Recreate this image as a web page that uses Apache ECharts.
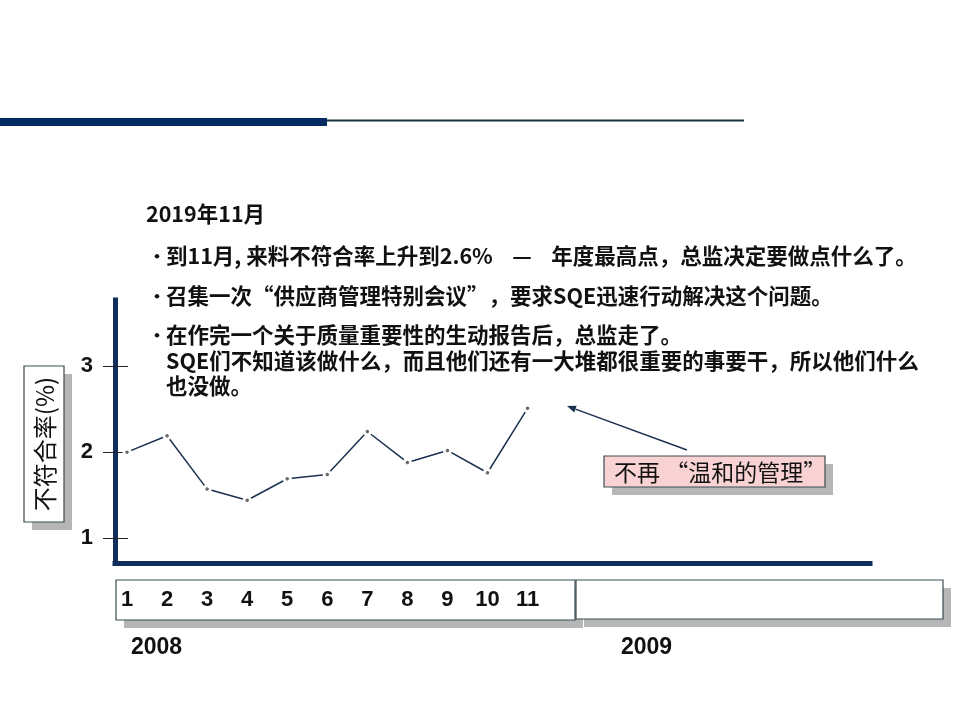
<!DOCTYPE html>
<html>
<head>
<meta charset="utf-8">
<script src="https://cdn.jsdelivr.net/npm/echarts@6/dist/echarts.min.js"></script>
<style>
  html, body { margin: 0; padding: 0; background: #ffffff; }
  #chart { width: 960px; height: 720px; }
</style>
</head>
<body>
<div id="chart"></div>
<script>
// values
const months = [1, 2, 3, 4, 5, 6, 7, 8, 9, 10, 11]
const rejectRate = [2.00, 2.19, 1.57, 1.44, 1.69, 1.74, 2.24, 1.88, 2.02, 1.76, 2.51]
const yTicks = [1, 2, 3]
const years = ['2008', '2009']
const axisName = '不符合率(%)'
const title = '2019年11月'
const bullets = [
  ['到11月, 来料不符合率上升到2.6%    —    年度最高点，总监决定要做点什么了。'],
  ['召集一次“供应商管理特别会议”，要求SQE迅速行动解决这个问题。'],
  ['在作完一个关于质量重要性的生动报告后，总监走了。',
   'SQE们不知道该做什么，而且他们还有一大堆都很重要的事要干，所以他们什么',
   '也没做。'],
]
const callout = '不再 “温和的管理”'

const palette = {
  navy: '#0f2e5c',
  header: '#042a62',
  headerThin: '#18343f',
  line: '#1c3150',
  dot: '#6a6a6a',
  text: '#111111',
  border: '#3a4c52',
  shadow: '#b6b6b6',
  pink: '#f9d3d3',
}

const CJK = '"Noto Sans CJK SC", "Noto Sans", sans-serif'
const SANS = '"Liberation Sans", Arial, Helvetica, sans-serif'

function textEl(text, x, y, font, extra = {}) {
  return {
    type: 'text',
    z: 20,
    silent: true,
    style: { text, x, y, font, fill: palette.text, align: 'left', verticalAlign: 'middle', ...extra },
  }
}

function boxEl(x, y, width, height, fill, z = 1) {
  return [
    { type: 'rect', z, silent: true, shape: { x: x + 8, y: y + 8, width, height }, style: { fill: palette.shadow } },
    { type: 'rect', z, silent: true, shape: { x, y, width, height }, style: { fill, stroke: palette.border, lineWidth: 1.2 } },
  ]
}

function arrowEl(tail, tip) {
  const dx = tip[0] - tail[0]
  const dy = tip[1] - tail[1]
  const len = Math.hypot(dx, dy)
  const ux = dx / len
  const uy = dy / len
  const bx = tip[0] - ux * 9
  const by = tip[1] - uy * 9
  return [
    { type: 'line', z: 20, silent: true, shape: { x1: tail[0], y1: tail[1], x2: bx, y2: by }, style: { stroke: palette.line, lineWidth: 1.5 } },
    {
      type: 'polygon', z: 20, silent: true,
      shape: { points: [tip, [bx - uy * 3.5, by + ux * 3.5], [bx + uy * 3.5, by - ux * 3.5]] },
      style: { fill: palette.line },
    },
  ]
}

function buildText() {
  const font = `bold 21.5px ${CJK}`
  const out = [textEl(title, 146, 214, font)]
  const tops = [256, 296, 335]
  bullets.forEach((lines, i) => {
    out.push(textEl('•', 148, tops[i], `bold 18px ${CJK}`))
    lines.forEach((line, j) => {
      out.push(textEl(line, 166, tops[i] + j * 25.5, font))
    })
  })
  return out
}

const chart = echarts.init(document.getElementById('chart'), null, { renderer: 'canvas' })

const axisLabelFont = { color: palette.text, fontSize: 22, fontWeight: 'bold', fontFamily: SANS }

chart.setOption({
  backgroundColor: '#ffffff',
  animation: false,
  grid: { left: 115, top: 300, right: 90, bottom: 157, containLabel: false },
  xAxis: {
    type: 'value',
    min: 0.7,
    max: 19.55,
    z: 5,
    axisLine: { lineStyle: { color: palette.navy, width: 5, cap: 'square' } },
    axisTick: { show: false },
    axisLabel: { ...axisLabelFont, margin: 26, customValues: months, formatter: (v) => String(v) },
    splitLine: { show: false },
  },
  yAxis: [
    {
      type: 'value',
      min: 0.71,
      max: 3.77,
      z: 5,
      axisLine: { show: true, lineStyle: { color: palette.navy, width: 5, cap: 'square' } },
      axisTick: { show: true, customValues: yTicks, length: 12, lineStyle: { color: '#222', width: 1 } },
      axisLabel: { ...axisLabelFont, margin: 22, customValues: yTicks, formatter: (v) => String(v) },
      splitLine: { show: false },
    },
    {
      type: 'value',
      min: 0.71,
      max: 3.77,
      position: 'left',
      z: 6,
      axisLine: { show: false },
      axisTick: { show: true, inside: true, customValues: yTicks, length: 13, lineStyle: { color: '#222', width: 1 } },
      axisLabel: { show: false },
      splitLine: { show: false },
    },
  ],
  series: [
    {
      name: axisName,
      type: 'line',
      z: 6,
      data: months.map((m, i) => [m, rejectRate[i]]),
      symbol: 'circle',
      symbolSize: 6.3,
      showSymbol: true,
      lineStyle: { color: palette.line, width: 1.5 },
      itemStyle: { color: palette.dot, borderColor: '#ffffff', borderWidth: 2.8 },
      silent: true,
    },
  ],
  graphic: [
    { type: 'rect', silent: true, shape: { x: 0, y: 118, width: 327, height: 8 }, style: { fill: palette.header } },
    { type: 'line', silent: true, shape: { x1: 327, y1: 120.5, x2: 744, y2: 120.5 }, style: { stroke: palette.headerThin, lineWidth: 2 } },
    ...buildText(),
    // y axis title box
    ...boxEl(24, 366, 40, 156, '#ffffff', 2),
    {
      type: 'text', z: 20, silent: true, x: 45, y: 444, rotation: Math.PI / 2,
      style: { text: axisName, x: 0, y: 0, font: `24px ${CJK}`, fill: palette.text, align: 'center', verticalAlign: 'middle' },
    },
    // month boxes
    ...boxEl(116, 580, 459, 40, '#ffffff', 1),
    ...boxEl(576, 580, 367, 39, '#ffffff', 1),
    textEl(years[0], 131, 648, `bold 23px ${SANS}`),
    textEl(years[1], 621, 648, `bold 23px ${SANS}`),
    // callout
    ...arrowEl([687, 450], [567, 406]),
    ...boxEl(604, 456, 221, 31, palette.pink, 15),
    textEl(callout, 614, 472, `23px ${CJK}`),
  ],
})
</script>
</body>
</html>
